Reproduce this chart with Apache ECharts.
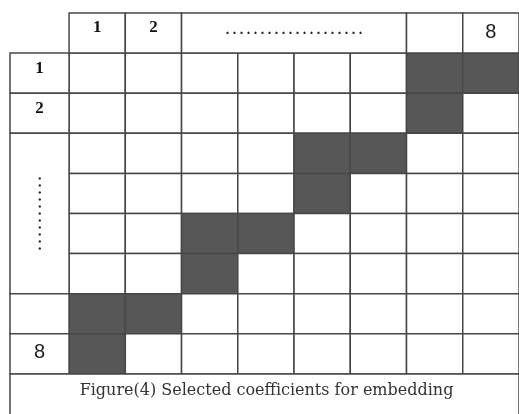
<!DOCTYPE html>
<html>
<head>
<meta charset="utf-8">
<script src="https://cdn.jsdelivr.net/npm/echarts@6/dist/echarts.min.js"></script>
<style>
    html, body { margin: 0; padding: 0; background: #fff; }
    #chart { width: 519px; height: 414px; }
</style>
</head>
<body>
<div id="chart"></div>
<script>
    // 表头（列）
    const colHeadLabels = ['1', '2', '. . . . . . . . . . . . . . . . . . . .', '', '8'];
    const colHeadSpans = [[0, 1], [1, 2], [2, 6], [6, 7], [7, 8]];
    // 表头（行）
    const rowHeadLabels = ['1', '2', '. . . . . . . . . . .', '', '8'];
    const rowHeadSpans = [[0, 1], [1, 2], [2, 6], [6, 7], [7, 8]];
    // 选中的系数 [列, 行]
    const darkCells = [[6, 0], [7, 0], [6, 1], [4, 2], [5, 2], [4, 3], [2, 4], [3, 4], [2, 5], [0, 6], [1, 6], [0, 7]];
    const caption = 'Figure(4) Selected coefficients for embedding';

    const LINE = '#474747';
    const DARK = '#575757';

    const chart = echarts.init(document.getElementById('chart'));

    function cellRect(api, x0, x1, y0, y1) {
        const p0 = api.coord([x0, y0]);
        const p1 = api.coord([x1, y1]);
        return { x: p0[0], y: p0[1], width: p1[0] - p0[0], height: p1[1] - p0[1] };
    }

    function labelFont(text) {
        if (text === '8') return { fontFamily: 'Liberation Sans', fontSize: 20, fontWeight: 'normal', fill: '#222' };
        if (text.indexOf('.') === 0) return { fontFamily: 'Liberation Serif', fontSize: 14, fontWeight: 'bold', fill: '#222' };
        return { fontFamily: 'Liberation Serif', fontSize: 17, fontWeight: 'bold', fill: '#111' };
    }

    function labelShift(text) {
        if (text === '8') return -1;
        if (text.indexOf('.') === 0) return -3;
        return -5;
    }

    // 8x8 单元格
    const cellData = [];
    for (let r = 0; r < 8; r++) {
        for (let c = 0; c < 8; c++) {
            const on = darkCells.some(d => d[0] === c && d[1] === r) ? 1 : 0;
            cellData.push([c, c + 1, r, r + 1, on]);
        }
    }

    const colHeadData = colHeadSpans.map(s => [s[0], s[1], -1, 0]);
    const rowHeadData = rowHeadSpans.map(s => [-1.05, 0, s[0], s[1]]);

    const option = {
        animation: false,
        grid: { left: 10, top: 13, width: 509, height: 404 },
        xAxis: { type: 'value', min: -1.05, max: 8, show: false },
        yAxis: { type: 'value', min: -1, max: 9, inverse: true, show: false },
        series: [
            {
                type: 'custom',
                clip: false,
                data: cellData,
                renderItem: (params, api) => ({
                    type: 'rect',
                    shape: cellRect(api, api.value(0), api.value(1), api.value(2), api.value(3)),
                    style: { fill: api.value(4) ? DARK : '#fff', stroke: LINE, lineWidth: 1.5 }
                })
            },
            {
                type: 'custom',
                clip: false,
                data: colHeadData,
                renderItem: (params, api) => {
                    const rect = cellRect(api, api.value(0), api.value(1), api.value(2), api.value(3));
                    const text = colHeadLabels[params.dataIndex];
                    return {
                        type: 'group',
                        children: [
                            { type: 'rect', shape: rect, style: { fill: '#fff', stroke: LINE, lineWidth: 1.5 } },
                            {
                                type: 'text',
                                style: Object.assign({
                                    text: text,
                                    x: rect.x + rect.width / 2,
                                    y: rect.y + rect.height / 2 + labelShift(text),
                                    align: 'center',
                                    verticalAlign: 'middle'
                                }, labelFont(text))
                            }
                        ]
                    };
                }
            },
            {
                type: 'custom',
                clip: false,
                data: rowHeadData,
                renderItem: (params, api) => {
                    const rect = cellRect(api, api.value(0), api.value(1), api.value(2), api.value(3));
                    const text = rowHeadLabels[params.dataIndex];
                    const dots = text.indexOf('.') === 0;
                    return {
                        type: 'group',
                        children: [
                            { type: 'rect', shape: rect, style: { fill: '#fff', stroke: LINE, lineWidth: 1.5 } },
                            {
                                type: 'text',
                                x: rect.x + rect.width / 2 + (dots ? 1 : 0),
                                y: rect.y + rect.height / 2,
                                rotation: dots ? Math.PI / 2 : 0,
                                style: Object.assign({
                                    text: text,
                                    x: 0,
                                    y: dots ? -3 : labelShift(text),
                                    align: 'center',
                                    verticalAlign: 'middle'
                                }, labelFont(text))
                            }
                        ]
                    };
                }
            },
            {
                type: 'custom',
                clip: false,
                data: [[-1.05, 8, 8, 9.5]],
                renderItem: (params, api) => {
                    const rect = cellRect(api, api.value(0), api.value(1), api.value(2), api.value(3));
                    return {
                        type: 'group',
                        children: [
                            { type: 'rect', shape: rect, style: { fill: '#fff', stroke: LINE, lineWidth: 1.5 } },
                            {
                                type: 'text',
                                style: {
                                    text: caption,
                                    x: rect.x + rect.width / 2 + 2,
                                    y: rect.y + 17,
                                    align: 'center',
                                    verticalAlign: 'middle',
                                    fontFamily: 'DejaVu Serif',
                                    fontSize: 16,
                                    fill: '#333'
                                }
                            }
                        ]
                    };
                }
            }
        ]
    };

    chart.setOption(option);
</script>
</body>
</html>
